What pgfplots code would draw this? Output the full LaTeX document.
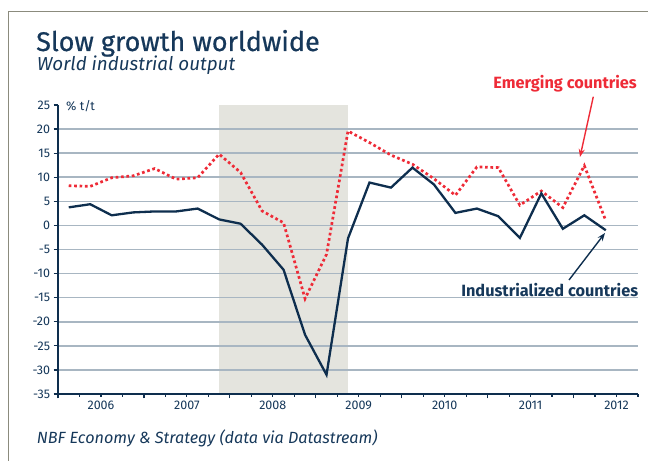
\documentclass[border=0pt]{standalone}
\usepackage{pgfplots}
\pgfplotsset{compat=1.18}
\usepackage{fontspec}
\setmainfont{Fira Sans}
\newfontfamily\titlefont[FakeBold=0.6]{Fira Sans}
\usetikzlibrary{arrows.meta}
\definecolor{navy}{RGB}{14,46,78}
\definecolor{txtnavy}{RGB}{22,56,90}
\definecolor{emred}{RGB}{238,43,55}
\definecolor{shadecol}{RGB}{228,228,222}
\definecolor{gridcol}{RGB}{168,182,194}
\definecolor{framecol}{RGB}{139,139,125}
\begin{document}
\begin{tikzpicture}
\begin{axis}[
  set layers,
  at={(58bp,67bp)}, anchor=south west,
  scale only axis, width=580bp, height=289bp,
  xmin=2006, xmax=2012.75, ymin=-35, ymax=25,
  axis x line*=bottom, axis y line*=left,
  axis line style={navy, line width=1.6bp},
  tick align=outside,
  tick style={navy, line width=1.2bp},
  major tick length=4.5bp, minor tick length=3bp,
  ytick={-35,-30,...,20},
  yticklabels={-35,-30,-25,-20,-15,-10,-5,0,5,10,15,20},
  extra y ticks={25}, extra y tick labels={25},
  extra y tick style={grid=none},
  ymajorgrids, grid style={gridcol, line width=1.6bp},
  xtick={2006,...,2012}, xticklabels={},
  minor xtick={2006.25,2006.5,2006.75,2007.25,2007.5,2007.75,2008.25,2008.5,2008.75,2009.25,2009.5,2009.75,2010.25,2010.5,2010.75,2011.25,2011.5,2011.75,2012.25,2012.5,2012.75},
  extra x ticks={2006.5,2007.5,2008.5,2009.5,2010.5,2011.5,2012.5},
  extra x tick labels={2006,2007,2008,2009,2010,2011,2012},
  extra x tick style={major tick length=0pt, xticklabel style={yshift=-3bp}},
  /pgf/number format/assume math mode=true,
  ticklabel style={font=\fontsize{12.5bp}{14bp}\selectfont, text=txtnavy},
  clip=false,
]
\addplot[fill=shadecol, draw=none, on layer=axis background] coordinates {(2007.87,-35) (2009.38,-35) (2009.38,25) (2007.87,25)};
\addplot[emred, line width=2.7bp, dash pattern=on 2.7bp off 2.7bp] coordinates {
(2006.125,8.25) (2006.375,8.1) (2006.625,9.9) (2006.875,10.3) (2007.125,11.8) (2007.375,9.6) (2007.625,9.9) (2007.875,14.8) (2008.125,11.0) (2008.375,3.0) (2008.625,0.55) (2008.875,-15.2) (2009.125,-6.0) (2009.375,19.6) (2009.625,17.2) (2009.875,14.6) (2010.125,12.7) (2010.375,9.7) (2010.625,6.25) (2010.875,12.15) (2011.125,12.0) (2011.375,4.2) (2011.625,7.15) (2011.875,3.7) (2012.125,12.4) (2012.375,1.0)};
\addplot[navy, line width=2.3bp, line join=miter] coordinates {
(2006.125,3.75) (2006.375,4.4) (2006.625,2.1) (2006.875,2.7) (2007.125,2.9) (2007.375,2.9) (2007.625,3.5) (2007.875,1.25) (2008.125,0.35) (2008.375,-4.0) (2008.625,-9.2) (2008.875,-22.7) (2009.125,-31.0) (2009.375,-2.7) (2009.625,8.9) (2009.875,7.85) (2010.125,12.0) (2010.375,8.5) (2010.625,2.6) (2010.875,3.5) (2011.125,1.9) (2011.375,-2.6) (2011.625,6.65) (2011.875,-0.7) (2012.125,2.1) (2012.375,-1.0)};
\end{axis}
\draw[framecol, line width=1.3bp] (8.3bp,-20bp) -- (8.3bp,449.5bp) -- (680bp,449.5bp);
\node[anchor=base west, inner sep=0pt, text=txtnavy, font=\titlefont\fontsize{27bp}{31bp}\selectfont] at (36bp,410bp) {Slow growth worldwide};
\node[anchor=base west, inner sep=0pt, text=txtnavy, font=\fontsize{18.8bp}{22bp}\selectfont\itshape] at (37bp,390bp) {World industrial output};
\node[anchor=base west, inner sep=0pt, text=txtnavy, font=\fontsize{12.5bp}{14bp}\selectfont] at (66bp,350bp) {\% t/t};
\node[anchor=base west, inner sep=0pt, text=txtnavy, font=\fontsize{16.2bp}{19bp}\selectfont\itshape] at (36.7bp,17.7bp) {NBF Economy \& Strategy (data via Datastream)};
\node[anchor=east, inner sep=0pt, text=emred, font=\fontsize{16.3bp}{19bp}\selectfont\bfseries] at (637bp,377bp) {Emerging countries};
\node[anchor=east, inner sep=0pt, text=txtnavy, font=\fontsize{16.3bp}{19bp}\selectfont\bfseries] at (638.3bp,171bp) {Industrialized countries};
\draw[emred, line width=1.4bp, -{Stealth[length=8bp,width=6bp]}] (593.3bp,364.3bp) -- (580bp,304bp);
\draw[navy, line width=1.4bp, -{Stealth[length=8bp,width=6bp]}] (569bp,181bp) -- (605bp,228bp);
\pgfresetboundingbox
\useasboundingbox (0bp,0bp) rectangle (648bp,461bp);
\end{tikzpicture}
\end{document}
